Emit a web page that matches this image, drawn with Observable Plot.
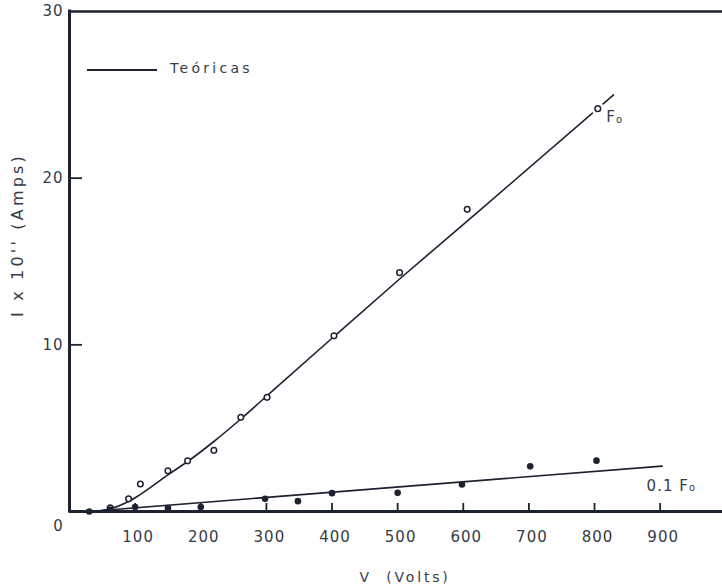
<!DOCTYPE html>
<html>
<head>
<meta charset="utf-8">
<script src="https://cdn.jsdelivr.net/npm/d3@7"></script>
<script src="https://cdn.jsdelivr.net/npm/@observablehq/plot@0.6"></script>
<style>
  html, body { margin: 0; padding: 0; background: #fff; }
</style>
</head>
<body>
<div id="chart"></div>
<script>
// ---- data ----
// measured points, Fo (open circles)
const foV = [62, 90, 108, 150, 180, 220, 261, 301, 403, 503, 606, 805];
const foI = [0.22, 0.76, 1.65, 2.44, 3.04, 3.67, 5.65, 6.85, 10.54, 14.33, 18.13, 24.17];
// measured points, 0.1 Fo (filled dots)
const lowV = [30, 62, 100, 150, 200, 298, 348, 400, 500, 598, 702, 803];
const lowI = [0.0, 0.12, 0.26, 0.2, 0.26, 0.76, 0.62, 1.1, 1.12, 1.62, 2.71, 3.05];
// theoretical curves ("Teóricas")
const foCurveV = [30, 45, 62, 90, 107, 150, 180, 220, 261, 311, 403, 503, 626, 829];
const foCurveI = [0.0, 0.03, 0.16, 0.6, 1.0, 2.2, 3.0, 4.2, 5.55, 7.3, 10.5, 13.95, 18.1, 25.0];
const lowCurveV = [30, 291, 903];
const lowCurveI = [0.0, 0.82, 2.72];
// ticks
const xTicks = [100, 200, 300, 400, 500, 600, 700, 800, 900];
const yTicks = [10, 20, 30];
const yTickMarks = [10, 20];
// texts
const legendLabel = "Teóricas";
const xTitle = "V\u00a0\u00a0(Volts)";
const yTitle = "I x 10'' (Amps)";

const toRows = (V, I) => V.map((v, i) => ({V: v, I: I[i]}));
const foPts = toRows(foV, foI);
const lowPts = toRows(lowV, lowI);
const foCurve = toRows(foCurveV, foCurveI);
const lowCurve = toRows(lowCurveV, lowCurveI);

const ink = "#1d2231";
const txt = "#363b47";
const font = "DejaVu Sans, Verdana, sans-serif";

const W = 722, H = 587, mL = 69, mR = 0, mT = 11, mB = 76;
const frameW = W - mL - mR, frameH = H - mT - mB;

function annotations(index, scales, values, dims) {
  const g = d3.create("svg:g").attr("font-family", font).attr("fill", txt)
    .attr("text-anchor", "start");
  // legend
  const lx = dims.marginLeft + 18, ly = dims.marginTop + 59;
  g.append("line").attr("x1", lx).attr("x2", lx + 70).attr("y1", ly).attr("y2", ly)
    .attr("stroke", ink).attr("stroke-width", 2);
  g.append("text").attr("x", lx + 83).attr("y", ly + 3).attr("font-size", 14)
    .attr("letter-spacing", 3.3).text(legendLabel);
  // Fo label next to last open point
  const last = foPts[foPts.length - 1];
  const fx = scales.x(last.V), fy = scales.y(last.I);
  const t1 = g.append("text").attr("x", fx + 9).attr("y", fy + 14).attr("font-size", 15);
  t1.append("tspan").text("F");
  t1.append("tspan").attr("font-size", 10).attr("dy", 1).text("o");
  // 0.1 Fo label at end of lower line
  const e = lowCurve[lowCurve.length - 1];
  const ex = scales.x(e.V), ey = scales.y(e.I);
  const t2 = g.append("text").attr("x", ex - 15).attr("y", ey + 25).attr("font-size", 15)
    .attr("letter-spacing", 1);
  t2.append("tspan").text("0.1\u00a0F");
  t2.append("tspan").attr("font-size", 10).text("o");
  // axis titles
  const cx = dims.marginLeft + (dims.width - dims.marginLeft - dims.marginRight) / 2 + 9.5;
  g.append("text").attr("x", cx).attr("y", dims.height - dims.marginBottom + 66)
    .attr("dy", "0.35em").attr("text-anchor", "middle").attr("font-size", 14)
    .attr("letter-spacing", 2.8).text(xTitle);
  g.append("text").attr("transform", `translate(17,235) rotate(-90)`)
    .attr("dy", "0.35em").attr("text-anchor", "middle").attr("font-size", 16)
    .attr("letter-spacing", 3.2).text(yTitle);
  return g.node();
}

const chart = Plot.plot({
  width: W, height: H,
  marginLeft: mL, marginRight: mR, marginTop: mT, marginBottom: mB,
  x: {domain: [0, 995], axis: null},
  y: {domain: [0, 30], axis: null},
  style: {background: "#fff", fontFamily: font, overflow: "visible", letterSpacing: "1px"},
  marks: [
    Plot.line(foCurve, {x: "V", y: "I", curve: "monotone-x", stroke: ink, strokeWidth: 1.6}),
    Plot.line(lowCurve, {x: "V", y: "I", curve: "linear", stroke: ink, strokeWidth: 1.6}),
    Plot.dot(foPts.slice(-1), {x: "V", y: "I", r: 6.5, fill: "#fff"}),
    Plot.dot(foPts, {x: "V", y: "I", r: 2.8, fill: "#fff", stroke: ink, strokeWidth: 1.5}),
    Plot.dot(lowPts, {x: "V", y: "I", r: 3.3, fill: ink}),
    // frame
    Plot.ruleX([0], {stroke: ink, strokeWidth: 3, strokeLinecap: "square"}),
    Plot.ruleY([0], {stroke: ink, strokeWidth: 3}),
    Plot.ruleY([30], {stroke: ink, strokeWidth: 2.5}),
    // inward ticks
    Plot.tickY(yTickMarks, {y: d => d, stroke: ink, strokeWidth: 1.8, insetRight: frameW - 13}),
    Plot.tickX(xTicks, {x: d => d, stroke: ink, strokeWidth: 1.8, insetTop: frameH - 8}),
    // tick labels
    Plot.text(xTicks, {x: d => d, y: 0, text: d => String(d), dy: 26, dx: 3, fontSize: 15,
      fill: txt, lineAnchor: "middle", textAnchor: "middle"}),
    Plot.text(yTicks, {x: 0, y: d => d, text: d => String(d), dx: -6, fontSize: 15,
      fill: txt, textAnchor: "end", lineAnchor: "middle"}),
    Plot.text(["0"], {x: 0, y: 0, text: d => d, dx: -11, dy: 15, fontSize: 15,
      fill: txt, textAnchor: "middle", lineAnchor: "middle"}),
    annotations
  ]
});
document.getElementById("chart").appendChild(chart);
</script>
</body>
</html>
